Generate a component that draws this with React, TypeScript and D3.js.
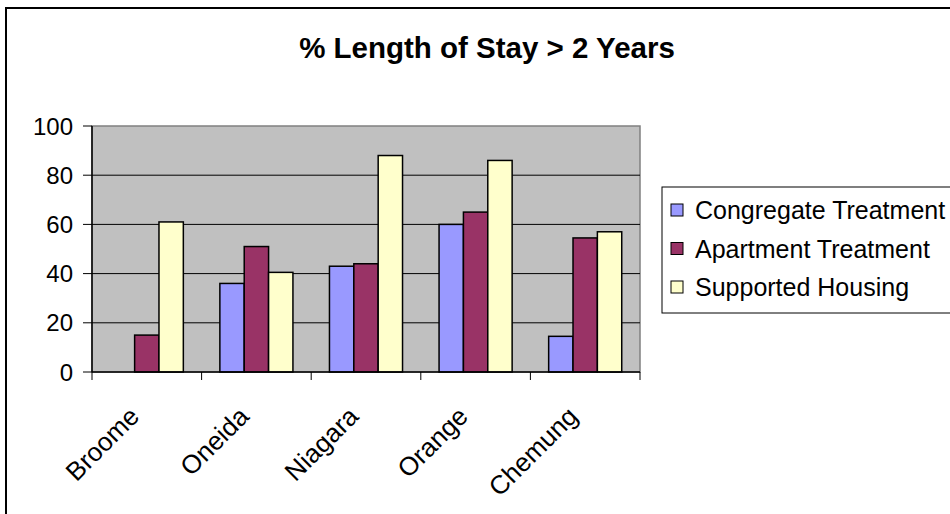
import React from 'react';
import * as d3 from 'd3';

const categories = ['Broome', 'Oneida', 'Niagara', 'Orange', 'Chemung'];
const seriesNames = ['Congregate Treatment', 'Apartment Treatment', 'Supported Housing'];
const congregate = [0, 36, 43, 60, 14.5];
const apartment = [15, 51, 44, 65, 54.5];
const supported = [61, 40.5, 88, 86, 57];
const yTicks = [0, 20, 40, 60, 80, 100];
const colors = ['#9999FF', '#993366', '#FFFFCC'];

const W = 950;
const H = 514;
const plot = { left: 92, right: 640, top: 126, bottom: 372 };
const font = '"Liberation Sans", Arial, sans-serif';

const App: React.FC = () => {
  const series = [congregate, apartment, supported];

  const x = d3.scaleBand<string>().domain(categories).range([plot.left, plot.right]);
  const xInner = d3
    .scaleBand<number>()
    .domain([0, 1, 2])
    .range([0, x.bandwidth()])
    .paddingInner(0)
    .paddingOuter(0.75);
  const y = d3.scaleLinear().domain([0, 100]).range([plot.bottom, plot.top]);

  const tickEdges = categories.map(c => x(c)!).concat([plot.right]);

  return (
    <svg
      width={W}
      height={H}
      style={{ position: 'absolute', left: 0, top: 0, background: '#fff' }}
      fontFamily={font}
    >
      {/* outer chart border */}
      <rect x={6} y={8} width={W + 20} height={H + 20} fill="#fff" stroke="#000" strokeWidth={2} />

      <text x={487} y={47} textAnchor="middle" dominantBaseline="central" fontSize={29.5} fontWeight="bold">
        % Length of Stay &gt; 2 Years
      </text>

      {/* plot area */}
      <rect
        x={plot.left}
        y={plot.top}
        width={plot.right - plot.left}
        height={plot.bottom - plot.top}
        fill="#C0C0C0"
        stroke="#808080"
        strokeWidth={1.5}
      />

      {/* gridlines */}
      {yTicks.filter(t => t > 0 && t < 100).map(t => (
        <line key={t} x1={plot.left} x2={plot.right} y1={y(t)} y2={y(t)} stroke="#000" strokeWidth={1} />
      ))}

      {/* bars */}
      {categories.map((c, i) => (
        <g key={c}>
          {series.map((s, j) =>
            s[i] > 0 ? (
              <rect
                key={j}
                x={x(c)! + xInner(j)!}
                y={y(s[i])}
                width={xInner.bandwidth()}
                height={y(0) - y(s[i])}
                fill={colors[j]}
                stroke="#000"
                strokeWidth={1.5}
              />
            ) : null
          )}
        </g>
      ))}

      {/* axes */}
      <line x1={plot.left} x2={plot.left} y1={plot.top} y2={plot.bottom} stroke="#000" strokeWidth={1.5} />
      <line x1={plot.left} x2={plot.right} y1={plot.bottom} y2={plot.bottom} stroke="#000" strokeWidth={1.5} />

      {yTicks.map(t => (
        <g key={t}>
          <line x1={plot.left - 9} x2={plot.left} y1={y(t)} y2={y(t)} stroke="#000" strokeWidth={1} />
          <text x={73} y={y(t)} textAnchor="end" dominantBaseline="central" fontSize={24}>
            {t}
          </text>
        </g>
      ))}

      {tickEdges.map((e, i) => (
        <line key={i} x1={e} x2={e} y1={plot.bottom} y2={plot.bottom + 8} stroke="#000" strokeWidth={1} />
      ))}

      {categories.map(c => {
        const cx = x(c)! + x.bandwidth() / 2 - 6;
        const cy = 418;
        return (
          <text key={c} x={cx} y={cy} textAnchor="end" fontSize={26} transform={`rotate(-45 ${cx} ${cy})`}>
            {c}
          </text>
        );
      })}

      {/* legend */}
      <rect x={662} y={187} width={320} height={126} fill="#fff" stroke="#000" strokeWidth={1} />
      {seriesNames.map((name, j) => {
        const cy = 210 + j * 38.5;
        return (
          <g key={name}>
            <rect x={671} y={cy - 6} width={12} height={12} fill={colors[j]} stroke="#000" strokeWidth={1} />
            <text x={695} y={cy} dominantBaseline="central" fontSize={25}>
              {name}
            </text>
          </g>
        );
      })}
    </svg>
  );
};

export default App;
